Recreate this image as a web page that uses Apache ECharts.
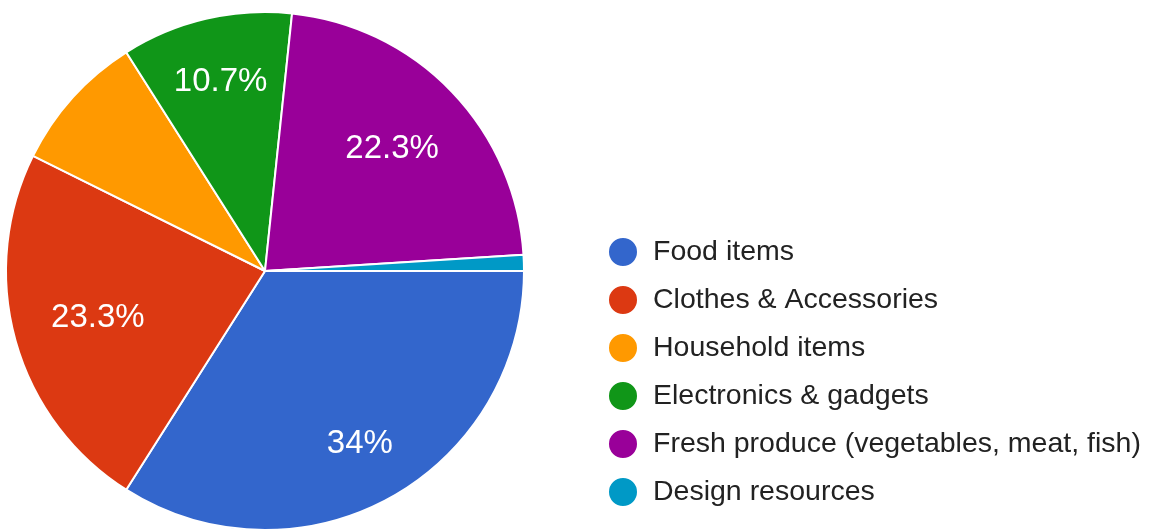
<!DOCTYPE html>
<html>
<head>
<meta charset="utf-8">
<style>
  html, body { margin: 0; padding: 0; background: #ffffff; }
  #chart { width: 1153px; height: 531px; }
</style>
<script src="https://cdn.jsdelivr.net/npm/echarts@6/dist/echarts.min.js"></script>
</head>
<body>
<div id="chart"></div>
<script>
// Survey answers (count of respondents per category)
const categories = [
  'Food items',
  'Clothes & Accessories',
  'Household items',
  'Electronics & gadgets',
  'Fresh produce (vegetables, meat, fish)',
  'Design resources'
];
const responses = [102, 70, 26, 32, 67, 3];
const sliceColors = ['#3366cc', '#dc3912', '#ff9900', '#109618', '#990099', '#0099c6'];
// Slices too thin to carry a percentage label
const showSliceLabel = [true, true, false, true, true, false];

// Pie geometry
const CX = 265, CY = 271, R = 259;
// Radial position of each slice label, as a fraction of the radius
const labelRadiusFrac = [0.76, 0.67, 0.7, 0.75, 0.68, 0.7];

const total = responses.reduce((a, b) => a + b, 0);

function pctText(v) {
  const p = Math.round(v / total * 1000) / 10;
  return (p % 1 === 0 ? p.toFixed(0) : p.toFixed(1)) + '%';
}

// Mid-angle of each slice (radians, clockwise from 3 o'clock)
const midAngles = [];
let acc = 0;
responses.forEach(v => {
  midAngles.push((acc + v / 2) / total * Math.PI * 2);
  acc += v;
});

const chart = echarts.init(document.getElementById('chart'), null, { renderer: 'canvas' });

chart.setOption({
  animation: false,
  backgroundColor: '#ffffff',
  legend: {
    orient: 'vertical',
    left: 602,
    top: 231,
    icon: 'circle',
    itemWidth: 30,
    itemHeight: 30,
    itemGap: 16,
    selectedMode: false,
    textStyle: {
      fontFamily: '"Liberation Sans", Arial, sans-serif',
      fontSize: 28.5,
      lineHeight: 28,
      color: '#222222',
      padding: [0, 0, 0, 10]
    },
    data: categories
  },
  series: [{
    type: 'pie',
    center: [CX, CY],
    radius: [0, R],
    startAngle: 0,
    clockwise: true,
    avoidLabelOverlap: false,
    minShowLabelAngle: 0,
    itemStyle: { borderColor: '#ffffff', borderWidth: 2 },
    emphasis: { disabled: true },
    labelLine: { show: false },
    label: {
      position: 'inside',
      color: '#ffffff',
      fontFamily: '"Liberation Sans", Arial, sans-serif',
      fontSize: 33,
      formatter: p => pctText(p.value)
    },
    labelLayout: params => {
      const i = params.dataIndex;
      const a = midAngles[i];
      const r = R * labelRadiusFrac[i];
      return {
        x: CX + r * Math.cos(a),
        y: CY + r * Math.sin(a),
        align: 'center',
        verticalAlign: 'middle'
      };
    },
    data: categories.map((name, i) => ({
      name: name,
      value: responses[i],
      itemStyle: { color: sliceColors[i] },
      label: { show: showSliceLabel[i] }
    }))
  }]
});
</script>
</body>
</html>
